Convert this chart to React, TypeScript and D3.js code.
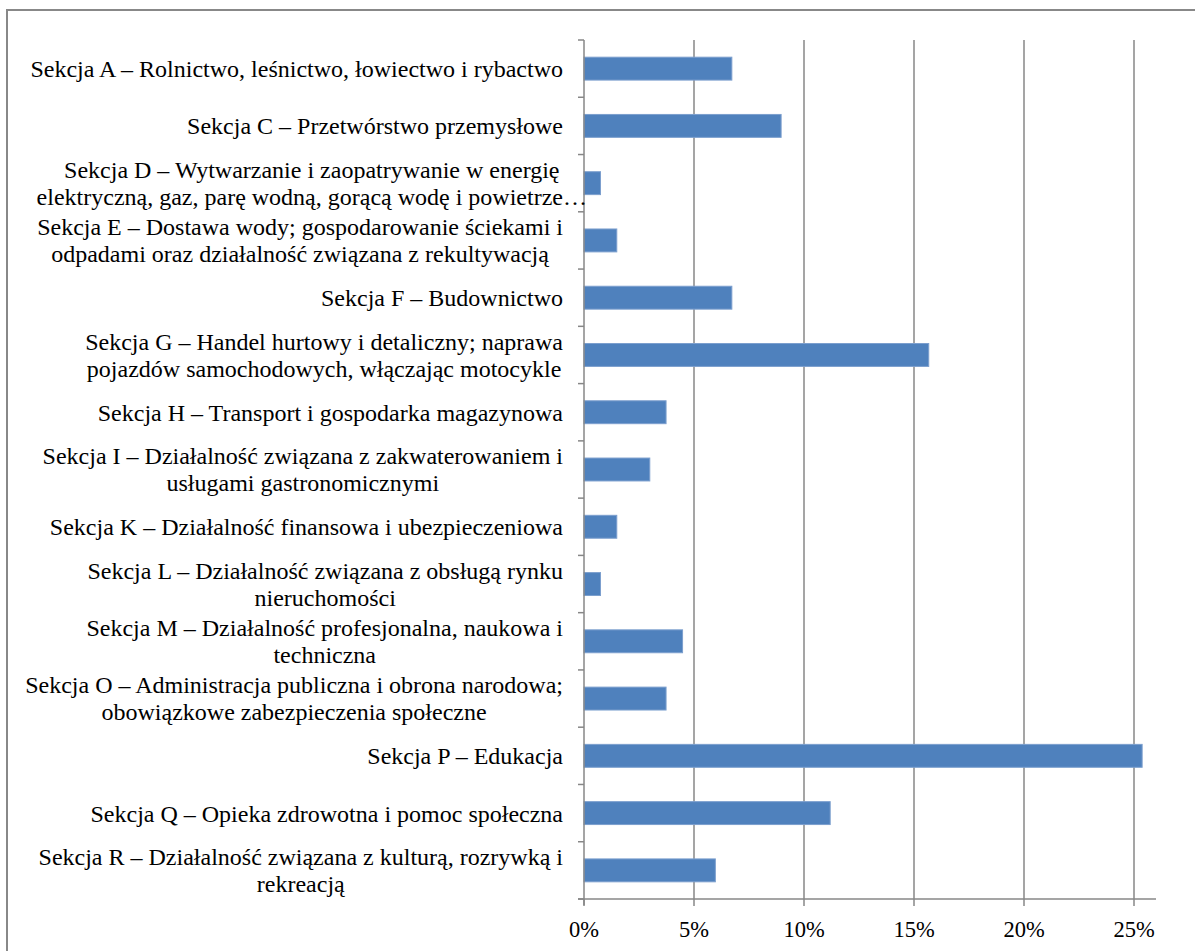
import React, { useEffect, useRef } from "react";
import * as d3 from "d3";

const categoryLines: string[][] = [
  ["Sekcja A – Rolnictwo, leśnictwo, łowiectwo i rybactwo"],
  ["Sekcja C – Przetwórstwo przemysłowe"],
  ["Sekcja D – Wytwarzanie i zaopatrywanie w energię", "elektryczną, gaz, parę wodną, gorącą wodę i powietrze…"],
  ["Sekcja E – Dostawa wody; gospodarowanie ściekami i", "odpadami oraz działalność związana z rekultywacją"],
  ["Sekcja F – Budownictwo"],
  ["Sekcja G – Handel hurtowy i detaliczny; naprawa", "pojazdów samochodowych, włączając motocykle"],
  ["Sekcja H – Transport i gospodarka magazynowa"],
  ["Sekcja I – Działalność związana z zakwaterowaniem i", "usługami gastronomicznymi"],
  ["Sekcja K – Działalność finansowa i ubezpieczeniowa"],
  ["Sekcja L – Działalność związana z obsługą rynku", "nieruchomości"],
  ["Sekcja M – Działalność profesjonalna, naukowa i", "techniczna"],
  ["Sekcja O – Administracja publiczna i obrona narodowa;", "obowiązkowe zabezpieczenia społeczne"],
  ["Sekcja P – Edukacja"],
  ["Sekcja Q – Opieka zdrowotna i pomoc społeczna"],
  ["Sekcja R – Działalność związana z kulturą, rozrywką i", "rekreacją"],
];

const values: number[] = [
  0.0672, 0.0896, 0.0075, 0.0149, 0.0672, 0.1567, 0.0373, 0.0299, 0.0149, 0.0075,
  0.0448, 0.0373, 0.2537, 0.1119, 0.0597,
];

const xTicks: number[] = [0, 0.05, 0.1, 0.15, 0.2, 0.25];
const xMax = 0.26;

const W = 1195;
const H = 951;

export default function App() {
  const ref = useRef<SVGSVGElement>(null);

  useEffect(() => {
    const svg = d3.select(ref.current);
    svg.selectAll("*").remove();

    const left = 584;
    const right = 1156;
    const top = 40;
    const bottom = 899;
    const gridColor = "#878787";
    const font = "'Liberation Serif', 'Times New Roman', serif";

    const keys = categoryLines.map((_, i) => String(i));
    const y = d3.scaleBand<string>().domain(keys).range([top, bottom]).padding(0);
    const x = d3.scaleLinear().domain([0, xMax]).range([left, right]);

    // outer frame
    svg.append("rect")
      .attr("x", 7).attr("y", 10)
      .attr("width", W + 20).attr("height", H + 20)
      .attr("fill", "white")
      .attr("stroke", "#888888")
      .attr("stroke-width", 2);

    // gridlines
    svg.append("g").selectAll("line")
      .data(xTicks.filter((t) => t > 0))
      .join("line")
      .attr("x1", (d) => x(d)).attr("x2", (d) => x(d))
      .attr("y1", top).attr("y2", bottom)
      .attr("stroke", gridColor).attr("stroke-width", 1.5);

    // bars
    const bw = y.bandwidth() * 0.4;
    svg.append("g").selectAll("rect")
      .data(values)
      .join("rect")
      .attr("x", x(0))
      .attr("y", (_, i) => (y(String(i)) as number) + y.bandwidth() / 2 - bw / 2)
      .attr("width", (d) => x(d) - x(0))
      .attr("height", bw)
      .attr("fill", "#4F81BD")
      .attr("stroke", "#7C9FCE")
      .attr("stroke-width", 1);

    // category axis line + ticks
    svg.append("line")
      .attr("x1", left).attr("x2", left)
      .attr("y1", top).attr("y2", bottom + 6)
      .attr("stroke", gridColor).attr("stroke-width", 1.5);
    const catTicks = keys.map((k) => y(k) as number).concat([bottom]);
    svg.append("g").selectAll("line")
      .data(catTicks)
      .join("line")
      .attr("x1", left - 6).attr("x2", left)
      .attr("y1", (d) => d).attr("y2", (d) => d)
      .attr("stroke", gridColor).attr("stroke-width", 1.5);

    // value axis line + ticks
    svg.append("line")
      .attr("x1", left - 6).attr("x2", right)
      .attr("y1", bottom).attr("y2", bottom)
      .attr("stroke", gridColor).attr("stroke-width", 1.5);
    svg.append("g").selectAll("line")
      .data(xTicks)
      .join("line")
      .attr("x1", (d) => x(d)).attr("x2", (d) => x(d))
      .attr("y1", bottom).attr("y2", bottom + 7)
      .attr("stroke", gridColor).attr("stroke-width", 1.5);

    // value tick labels
    const fmt = d3.format(".0%");
    svg.append("g").selectAll("text")
      .data(xTicks)
      .join("text")
      .attr("x", (d) => x(d))
      .attr("y", 937)
      .attr("text-anchor", "middle")
      .attr("font-family", font)
      .attr("font-size", 22.5)
      .attr("fill", "#000")
      .text((d) => fmt(d));

    // category labels
    const labelRight = 563;
    const lineH = 27;
    const fs = 24;
    const gLab = svg.append("g");
    const measure = (s: string) => {
      const probe = gLab.append("text").attr("font-family", font).attr("font-size", fs).text(s);
      const w = (probe.node() as SVGTextElement).getComputedTextLength();
      probe.remove();
      return w;
    };
    categoryLines.forEach((lines, i) => {
      const cy = (y(String(i)) as number) + y.bandwidth() / 2;
      const fullMax = d3.max(lines, (ln) => measure(ln)) as number;
      const hasEll = lines.some((ln) => ln.endsWith("…"));
      const ellW = hasEll ? measure("…") : 0;
      // truncated labels: text before the ellipsis ends at labelRight, ellipsis hangs past it
      const cx = labelRight + ellW - fullMax / 2;
      lines.forEach((ln, j) => {
        gLab.append("text")
          .attr("font-family", font)
          .attr("font-size", fs)
          .attr("fill", "#000")
          .attr("text-anchor", "middle")
          .attr("x", cx)
          .attr("y", cy + (j - (lines.length - 1) / 2) * lineH)
          .attr("dy", "0.35em")
          .text(ln);
      });
    });
  }, []);

  return (
    <svg
      ref={ref}
      width={W}
      height={H}
      style={{ position: "absolute", left: 0, top: 0, background: "white" }}
    />
  );
}
